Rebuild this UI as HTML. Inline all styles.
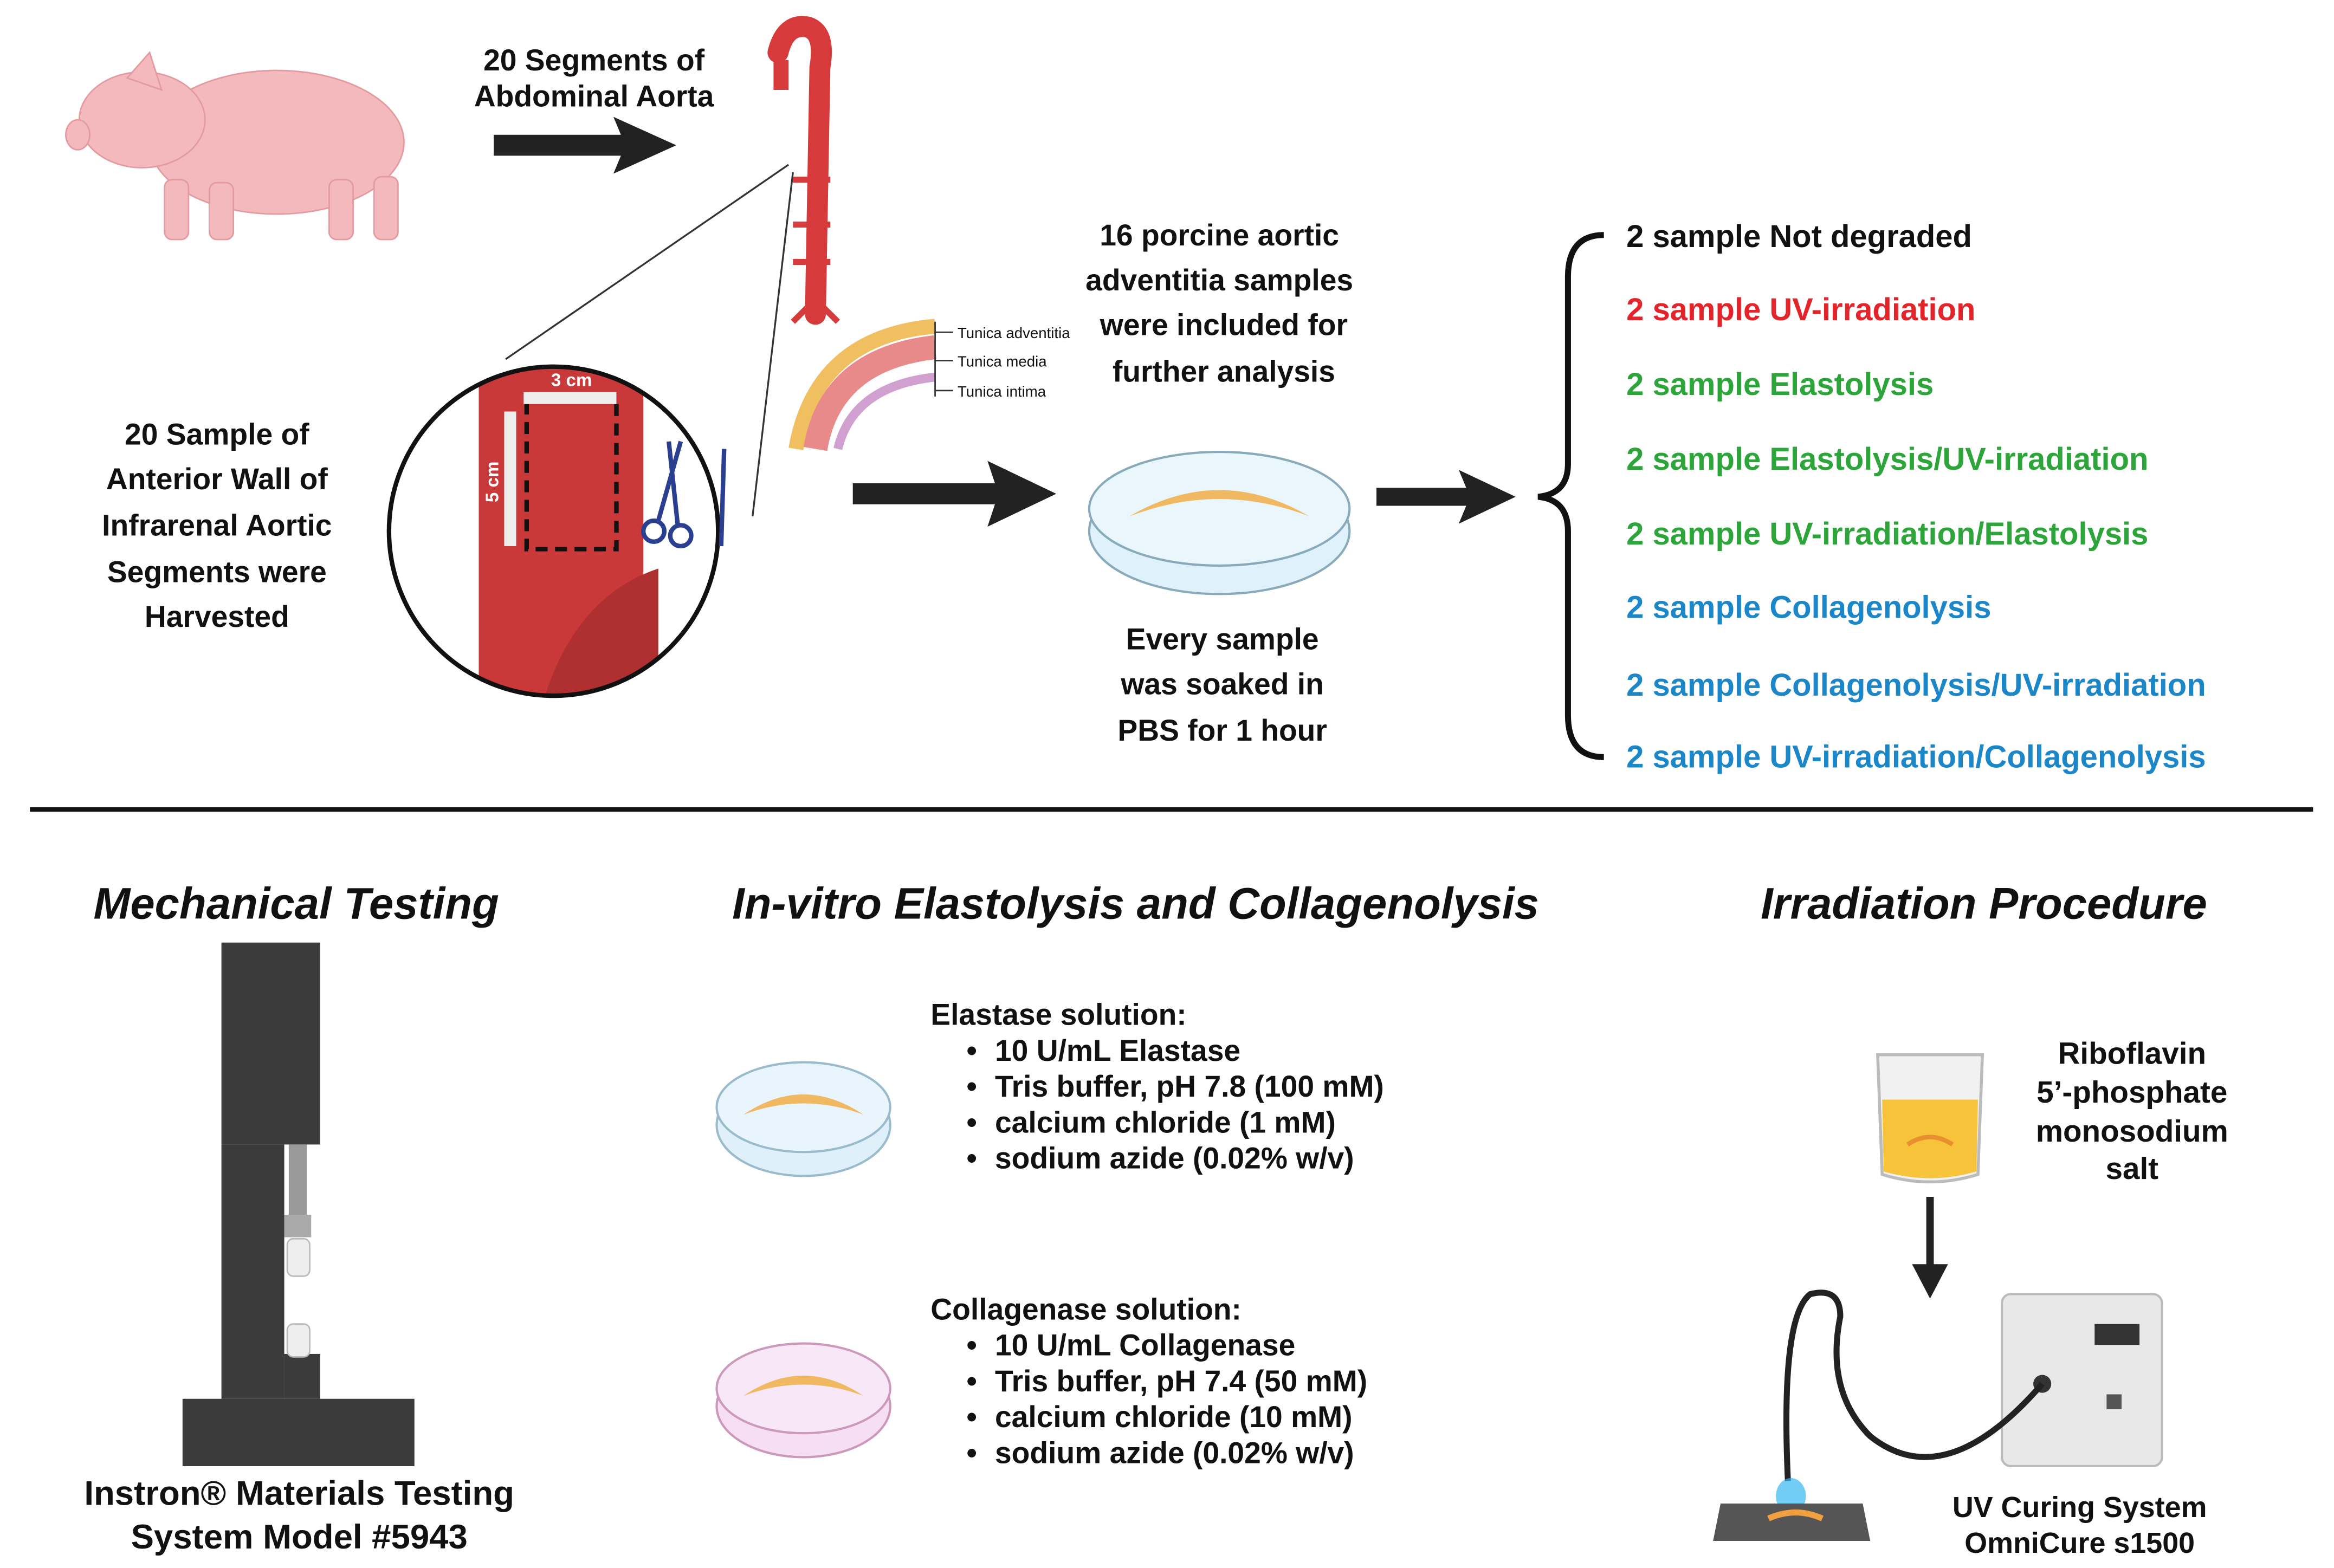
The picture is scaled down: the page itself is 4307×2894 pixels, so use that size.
<!DOCTYPE html>
<html><head><meta charset="utf-8"><style>
html,body{margin:0;padding:0;background:#fff;}
svg{display:block;}
text{font-family:"Liberation Sans",sans-serif;font-weight:bold;fill:#111;}
</style></head><body>
<svg width="4307" height="2894" viewBox="0 0 1560 1048" xmlns="http://www.w3.org/2000/svg">
<rect width="1560" height="1048" fill="#fff"/>
<g fill="#f3b9bd" stroke="#e39aa0" stroke-width="1">
<ellipse cx="185" cy="95" rx="85" ry="48"/>
<ellipse cx="95" cy="80" rx="42" ry="32"/>
<ellipse cx="52" cy="90" rx="8" ry="10"/>
<polygon points="85,52 100,35 108,60"/>
<rect x="110" y="120" width="16" height="40" rx="5"/>
<rect x="140" y="122" width="16" height="38" rx="5"/>
<rect x="220" y="120" width="16" height="40" rx="5"/>
<rect x="250" y="118" width="16" height="42" rx="5"/>
</g>
<polygon points="330,90 415,90 410,78 452,97 410,116 415,104 330,104" fill="#222"/>
<text x="397" y="47" font-size="20" text-anchor="middle">20 Segments of</text>
<text x="397" y="71" font-size="20" text-anchor="middle">Abdominal Aorta</text>
<path d="M520,35 Q525,15 540,18 Q552,22 548,45 L545,210" stroke="#d63a3a" stroke-width="14" fill="none" stroke-linecap="round"/>
<path d="M522,40 L522,60" stroke="#d63a3a" stroke-width="10"/>
<g stroke="#d63a3a" stroke-width="4"><line x1="530" y1="120" x2="555" y2="120"/><line x1="530" y1="150" x2="555" y2="150"/><line x1="530" y1="175" x2="555" y2="175"/><path d="M545,200 L530,215 M545,200 L560,215"/></g>
<line x1="527" y1="110" x2="338" y2="240" stroke="#333" stroke-width="1.2"/>
<line x1="530" y1="115" x2="503" y2="345" stroke="#333" stroke-width="1.2"/>
<defs><clipPath id="cc"><circle cx="370" cy="355" r="110"/></clipPath></defs>
<g clip-path="url(#cc)">
<rect x="258" y="243" width="224" height="224" fill="#fff"/>
<rect x="320" y="240" width="110" height="240" fill="#c9393a"/>
<path d="M360,480 Q380,400 440,380 L440,480Z" fill="#b02f30"/>
<rect x="352" y="265" width="60" height="102" fill="none" stroke="#111" stroke-width="3" stroke-dasharray="8,5"/>
<rect x="350" y="262" width="62" height="8" fill="#eee"/>
<rect x="337" y="275" width="8" height="90" fill="#eee"/>
</g>
<circle cx="370" cy="355" r="110" fill="none" stroke="#111" stroke-width="3"/>
<text x="382" y="258" font-size="12" text-anchor="middle" style="fill:#fff">3 cm</text>
<text x="333" y="322" font-size="12" transform="rotate(-90 333 322)" text-anchor="middle" style="fill:#fff">5 cm</text>
<g stroke="#2a3f8f" stroke-width="3" fill="none"><circle cx="437" cy="355" r="7"/><circle cx="455" cy="358" r="7"/><line x1="440" y1="348" x2="455" y2="295"/><line x1="453" y1="351" x2="447" y2="295"/><line x1="484" y1="300" x2="482" y2="365"/></g>
<text font-size="20" text-anchor="middle"><tspan x="145" y="297">20 Sample of</tspan><tspan x="145" y="327">Anterior Wall of</tspan><tspan x="145" y="358">Infrarenal Aortic</tspan><tspan x="145" y="389">Segments were</tspan><tspan x="145" y="419">Harvested</tspan></text>
<path d="M532,300 Q545,225 625,218" stroke="#f0c060" stroke-width="10" fill="none"/>
<path d="M545,300 Q555,240 625,232" stroke="#e88a8a" stroke-width="16" fill="none"/>
<path d="M560,300 Q570,258 625,252" stroke="#d0a0d0" stroke-width="6" fill="none"/>
<g stroke="#333" stroke-width="1"><line x1="625" y1="222" x2="637" y2="222"/><line x1="625" y1="241" x2="637" y2="241"/><line x1="625" y1="261" x2="637" y2="261"/><line x1="625" y1="215" x2="625" y2="265"/></g>
<g font-size="10"><text x="640" y="226" style="font-weight:normal">Tunica adventitia</text><text x="640" y="245" style="font-weight:normal">Tunica media</text><text x="640" y="265" style="font-weight:normal">Tunica intima</text></g>
<polygon points="570,323 665,323 660,308 706,330 660,352 665,337 570,337" fill="#222"/>
<text font-size="20" text-anchor="middle"><tspan x="815" y="164">16 porcine aortic</tspan><tspan x="815" y="194">adventitia samples</tspan><tspan x="818" y="224">were included for</tspan><tspan x="818" y="255">further analysis</tspan></text>
<ellipse cx="815" cy="355" rx="87" ry="42" fill="#dff1fb" stroke="#8ab" stroke-width="1.5"/>
<ellipse cx="815" cy="340" rx="87" ry="38" fill="#e9f6fc" stroke="#8ab" stroke-width="1.5"/>
<path d="M755,345 Q815,310 875,345 Q815,322 755,345Z" fill="#f0b860"/>
<text font-size="20" text-anchor="middle"><tspan x="817" y="434">Every sample</tspan><tspan x="817" y="464">was soaked in</tspan><tspan x="817" y="495">PBS for 1 hour</tspan></text>
<polygon points="920,326 980,326 975,314 1013,332 975,350 980,338 920,338" fill="#222"/>
<path d="M1072,157 Q1048,157 1048,185 L1048,310 Q1048,330 1028,332 Q1048,334 1048,355 L1048,478 Q1048,506 1072,506" fill="none" stroke="#111" stroke-width="4"/>
<g font-size="21">
<text x="1087" y="165">2 sample Not degraded</text>
<text x="1087" y="214" style="fill:#e3242b">2 sample UV-irradiation</text>
<text x="1087" y="264" style="fill:#2ea53a">2 sample Elastolysis</text>
<text x="1087" y="314" style="fill:#2ea53a">2 sample Elastolysis/UV-irradiation</text>
<text x="1087" y="364" style="fill:#2ea53a">2 sample UV-irradiation/Elastolysis</text>
<text x="1087" y="413" style="fill:#1b87c9">2 sample Collagenolysis</text>
<text x="1087" y="465" style="fill:#1b87c9">2 sample Collagenolysis/UV-irradiation</text>
<text x="1087" y="513" style="fill:#1b87c9">2 sample UV-irradiation/Collagenolysis</text>
</g>
<line x1="20" y1="541" x2="1546" y2="541" stroke="#111" stroke-width="3"/>
<g font-size="29.5" font-style="italic" text-anchor="middle">
<text x="198" y="614">Mechanical Testing</text>
<text x="759" y="614">In-vitro Elastolysis and Collagenolysis</text>
<text x="1326" y="614">Irradiation Procedure</text>
</g>
<g fill="#3b3b3b">
<rect x="148" y="630" width="66" height="135"/>
<rect x="148" y="765" width="42" height="170"/>
<rect x="190" y="905" width="24" height="30"/>
<rect x="122" y="935" width="155" height="45"/>
</g>
<rect x="193" y="765" width="12" height="50" fill="#999"/>
<rect x="190" y="812" width="18" height="15" fill="#aaa"/>
<rect x="192" y="828" width="15" height="25" rx="4" fill="#eee" stroke="#bbb"/>
<rect x="192" y="885" width="15" height="22" rx="4" fill="#eee" stroke="#bbb"/>
<text font-size="23" text-anchor="middle"><tspan x="200" y="1006">Instron® Materials Testing</tspan><tspan x="200" y="1035">System Model #5943</tspan></text>
<ellipse cx="537" cy="752" rx="58" ry="34" fill="#dff0fb" stroke="#9bc" stroke-width="1.5"/>
<ellipse cx="537" cy="740" rx="58" ry="30" fill="#e8f5fc" stroke="#9bc" stroke-width="1.5"/>
<path d="M497,745 Q537,718 577,745 Q537,730 497,745Z" fill="#f0b860"/>
<ellipse cx="537" cy="940" rx="58" ry="34" fill="#f6dff3" stroke="#c9b" stroke-width="1.5"/>
<ellipse cx="537" cy="928" rx="58" ry="30" fill="#f8e8f7" stroke="#c9b" stroke-width="1.5"/>
<path d="M497,933 Q537,906 577,933 Q537,918 497,933Z" fill="#f0b860"/>
<g font-size="20">
<text x="622" y="685">Elastase solution:</text>
<text x="646" y="709">•</text><text x="665" y="709">10 U/mL Elastase</text>
<text x="646" y="733">•</text><text x="665" y="733">Tris buffer, pH 7.8 (100 mM)</text>
<text x="646" y="757">•</text><text x="665" y="757">calcium chloride (1 mM)</text>
<text x="646" y="781">•</text><text x="665" y="781">sodium azide (0.02% w/v)</text>
<text x="622" y="882">Collagenase solution:</text>
<text x="646" y="906">•</text><text x="665" y="906">10 U/mL Collagenase</text>
<text x="646" y="930">•</text><text x="665" y="930">Tris buffer, pH 7.4 (50 mM)</text>
<text x="646" y="954">•</text><text x="665" y="954">calcium chloride (10 mM)</text>
<text x="646" y="978">•</text><text x="665" y="978">sodium azide (0.02% w/v)</text>
</g>
<path d="M1255,705 L1325,705 L1322,785 Q1290,795 1258,785Z" fill="#f1f1f1" stroke="#bbb" stroke-width="2"/>
<path d="M1258,735 L1322,735 L1321,783 Q1290,792 1259,783Z" fill="#f6c33a"/>
<path d="M1275,765 Q1290,755 1305,765" stroke="#e89030" stroke-width="3" fill="none"/>
<text font-size="20.5" text-anchor="middle"><tspan x="1425" y="711">Riboflavin</tspan><tspan x="1425" y="737">5’-phosphate</tspan><tspan x="1425" y="763">monosodium</tspan><tspan x="1425" y="788">salt</tspan></text>
<line x1="1290" y1="800" x2="1290" y2="848" stroke="#222" stroke-width="5"/>
<polygon points="1278,845 1302,845 1290,868" fill="#222"/>
<rect x="1338" y="865" width="107" height="115" rx="6" fill="#e8e8e8" stroke="#bbb" stroke-width="1.5"/>
<rect x="1400" y="885" width="30" height="14" fill="#333"/>
<circle cx="1365" cy="925" r="6" fill="#333"/>
<rect x="1408" y="932" width="10" height="10" fill="#555"/>
<path d="M1365,925 Q1300,1000 1250,960 Q1220,930 1230,880 Q1230,860 1210,865 Q1190,880 1195,990" stroke="#222" stroke-width="4" fill="none"/>
<ellipse cx="1197" cy="1000" rx="10" ry="12" fill="#36b8f0" opacity="0.7"/>
<path d="M1150,1005 L1245,1005 L1250,1030 L1145,1030Z" fill="#555"/>
<path d="M1182,1015 Q1200,1007 1218,1015" stroke="#f0a040" stroke-width="4" fill="none"/>
<text font-size="19.5" text-anchor="middle"><tspan x="1390" y="1014">UV Curing System</tspan><tspan x="1390" y="1038">OmniCure s1500</tspan></text>
</svg>
</body></html>
